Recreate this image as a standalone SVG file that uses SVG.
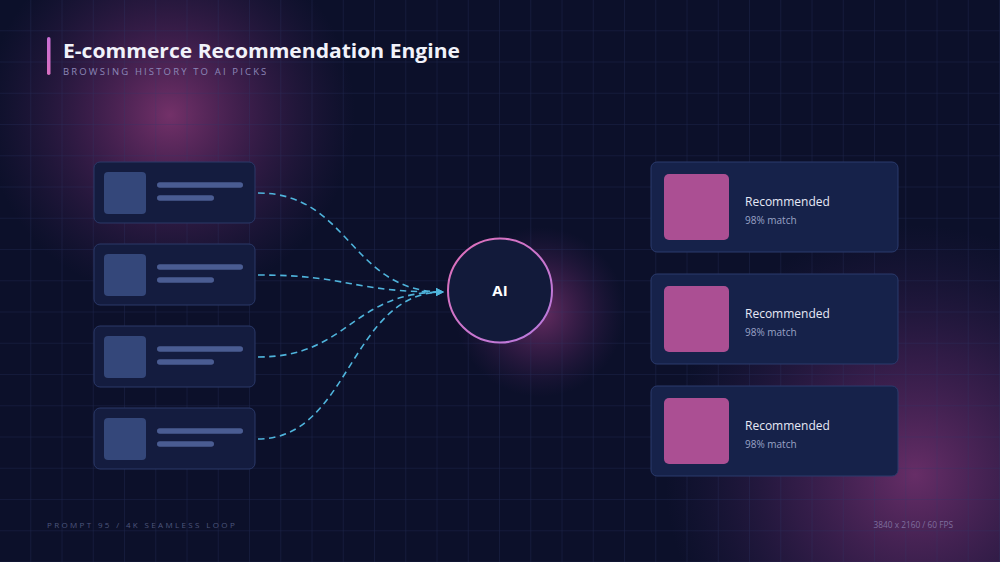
<svg xmlns="http://www.w3.org/2000/svg" width="1000" height="562" viewBox="0 0 1000 562">
  <defs>
    <pattern id="grid" x="0" y="0" width="31.25" height="31.25" patternUnits="userSpaceOnUse">
      <path d="M31.25 0 V31.25 M0 31.25 H31.25" fill="none" stroke="#2c3869" stroke-opacity="0.5" stroke-width="1"/>
    </pattern>
    <radialGradient id="glowTL" cx="170" cy="115" r="185" gradientUnits="userSpaceOnUse">
      <stop offset="0" stop-color="#b2458f" stop-opacity="0.62"/>
      <stop offset="0.45" stop-color="#8a3480" stop-opacity="0.35"/>
      <stop offset="1" stop-color="#5a2a6e" stop-opacity="0"/>
    </radialGradient>
    <radialGradient id="glowBR" cx="915" cy="475" r="250" gradientUnits="userSpaceOnUse">
      <stop offset="0" stop-color="#a3418f" stop-opacity="0.6"/>
      <stop offset="0.5" stop-color="#7a3380" stop-opacity="0.32"/>
      <stop offset="1" stop-color="#4a2a6e" stop-opacity="0"/>
    </radialGradient>
    <radialGradient id="glowAI" cx="540" cy="312" r="85" gradientUnits="userSpaceOnUse">
      <stop offset="0" stop-color="#b2458f" stop-opacity="0.55"/>
      <stop offset="0.55" stop-color="#8a3480" stop-opacity="0.25"/>
      <stop offset="1" stop-color="#5a2a6e" stop-opacity="0"/>
    </radialGradient>
    <linearGradient id="ring" x1="0" y1="0" x2="1" y2="1">
      <stop offset="0" stop-color="#e06fb8"/>
      <stop offset="1" stop-color="#b77be0"/>
    </linearGradient>
    <linearGradient id="bar" x1="0" y1="0" x2="0" y2="1">
      <stop offset="0" stop-color="#c96fd6"/>
      <stop offset="1" stop-color="#d96fc0"/>
    </linearGradient>
    <marker id="arrow" viewBox="0 0 10 10" refX="9" refY="5" markerWidth="8" markerHeight="8" markerUnits="userSpaceOnUse" orient="auto">
      <path d="M0 0 L10 5 L0 10 Z" fill="#4fb4dc"/>
    </marker>
    <style>
      .card { fill: #141c3f; stroke: #2a3868; stroke-width: 1; }
      .thumb { fill: #34477a; }
      .line1 { fill: #4a5c92; }
      .rcard { fill: #16224a; stroke: #2a3a6c; stroke-width: 1; }
      .pink { fill: #ab4f93; }
      .rtitle { font-family: "Open Sans", "Noto Sans", sans-serif; font-size: 12px; fill: #e6e9f6; }
      .rsub { font-family: "Open Sans", "Noto Sans", sans-serif; font-size: 10px; fill: #9aa3c6; }
      .conn { fill: none; stroke: #4fb4dc; stroke-width: 1.6; stroke-dasharray: 6.5 4.5; }
    </style>
  </defs>

  <rect width="1000" height="562" fill="#0c102a"/>
  <rect width="1000" height="562" fill="url(#glowTL)"/>
  <rect width="1000" height="562" fill="url(#glowBR)"/>
  <rect width="1000" height="562" fill="url(#glowAI)"/>
  <rect width="1000" height="562" fill="url(#grid)"/>

  <g id="header">
    <rect x="47" y="37" width="3.5" height="38" rx="1.75" fill="url(#bar)"/>
    <text x="63" y="57.5" font-family="Open Sans, Noto Sans, sans-serif" font-size="20" font-weight="700" fill="#f1f2fa" textLength="397" lengthAdjust="spacingAndGlyphs">E-commerce Recommendation Engine</text>
    <text x="63" y="75" font-family="Open Sans, Noto Sans, sans-serif" font-size="9.5" letter-spacing="2.15" fill="#8c87b8">BROWSING HISTORY TO AI PICKS</text>
  </g>

  <g id="connectors">
    <path class="conn" d="M258 193 C350 193 350 292 443 292" marker-end="url(#arrow)"/>
    <path class="conn" d="M258 275 C350 275 350 292 443 292" marker-end="url(#arrow)"/>
    <path class="conn" d="M258 357 C350 357 350 292 443 292" marker-end="url(#arrow)"/>
    <path class="conn" d="M258 439 C350 439 350 292 443 292" marker-end="url(#arrow)"/>
  </g>

  <g id="history-1">
    <rect class="card" x="94" y="162" width="161" height="61" rx="6"/>
    <rect class="thumb" x="104" y="172" width="42" height="42" rx="4"/>
    <rect class="line1" x="157" y="182.3" width="86" height="5.5" rx="2.75"/>
    <rect class="line1" x="157" y="195.3" width="57" height="5.5" rx="2.75"/>
  </g>
  <g id="history-2">
    <rect class="card" x="94" y="244" width="161" height="61" rx="6"/>
    <rect class="thumb" x="104" y="254" width="42" height="42" rx="4"/>
    <rect class="line1" x="157" y="264.3" width="86" height="5.5" rx="2.75"/>
    <rect class="line1" x="157" y="277.3" width="57" height="5.5" rx="2.75"/>
  </g>
  <g id="history-3">
    <rect class="card" x="94" y="326" width="161" height="61" rx="6"/>
    <rect class="thumb" x="104" y="336" width="42" height="42" rx="4"/>
    <rect class="line1" x="157" y="346.3" width="86" height="5.5" rx="2.75"/>
    <rect class="line1" x="157" y="359.3" width="57" height="5.5" rx="2.75"/>
  </g>
  <g id="history-4">
    <rect class="card" x="94" y="408" width="161" height="61" rx="6"/>
    <rect class="thumb" x="104" y="418" width="42" height="42" rx="4"/>
    <rect class="line1" x="157" y="428.3" width="86" height="5.5" rx="2.75"/>
    <rect class="line1" x="157" y="441.3" width="57" height="5.5" rx="2.75"/>
  </g>

  <g id="ai">
    <circle cx="500" cy="290.5" r="52" fill="#121a3a" stroke="url(#ring)" stroke-width="2"/>
    <text x="500" y="296" text-anchor="middle" font-family="Open Sans, Noto Sans, sans-serif" font-size="15" font-weight="700" fill="#ffffff">AI</text>
  </g>

  <g id="rec-1">
    <rect class="rcard" x="651" y="162" width="247" height="90" rx="6"/>
    <rect class="pink" x="664" y="174" width="65" height="66" rx="5"/>
    <text class="rtitle" x="745" y="205.5">Recommended</text>
    <text class="rsub" x="745" y="223.5">98% match</text>
  </g>
  <g id="rec-2">
    <rect class="rcard" x="651" y="274" width="247" height="90" rx="6"/>
    <rect class="pink" x="664" y="286" width="65" height="66" rx="5"/>
    <text class="rtitle" x="745" y="317.5">Recommended</text>
    <text class="rsub" x="745" y="335.5">98% match</text>
  </g>
  <g id="rec-3">
    <rect class="rcard" x="651" y="386" width="247" height="90" rx="6"/>
    <rect class="pink" x="664" y="398" width="65" height="66" rx="5"/>
    <text class="rtitle" x="745" y="429.5">Recommended</text>
    <text class="rsub" x="745" y="447.5">98% match</text>
  </g>

  <g id="footer">
    <text x="47" y="528" font-family="Open Sans, Noto Sans, sans-serif" font-size="8" letter-spacing="2.35" fill="#4c567c">PROMPT 95 / 4K SEAMLESS LOOP</text>
    <text x="953" y="528" text-anchor="end" font-family="Open Sans, Noto Sans, sans-serif" font-size="8.3" fill="#7e6e9e">3840 x 2160 / 60 FPS</text>
  </g>
</svg>
